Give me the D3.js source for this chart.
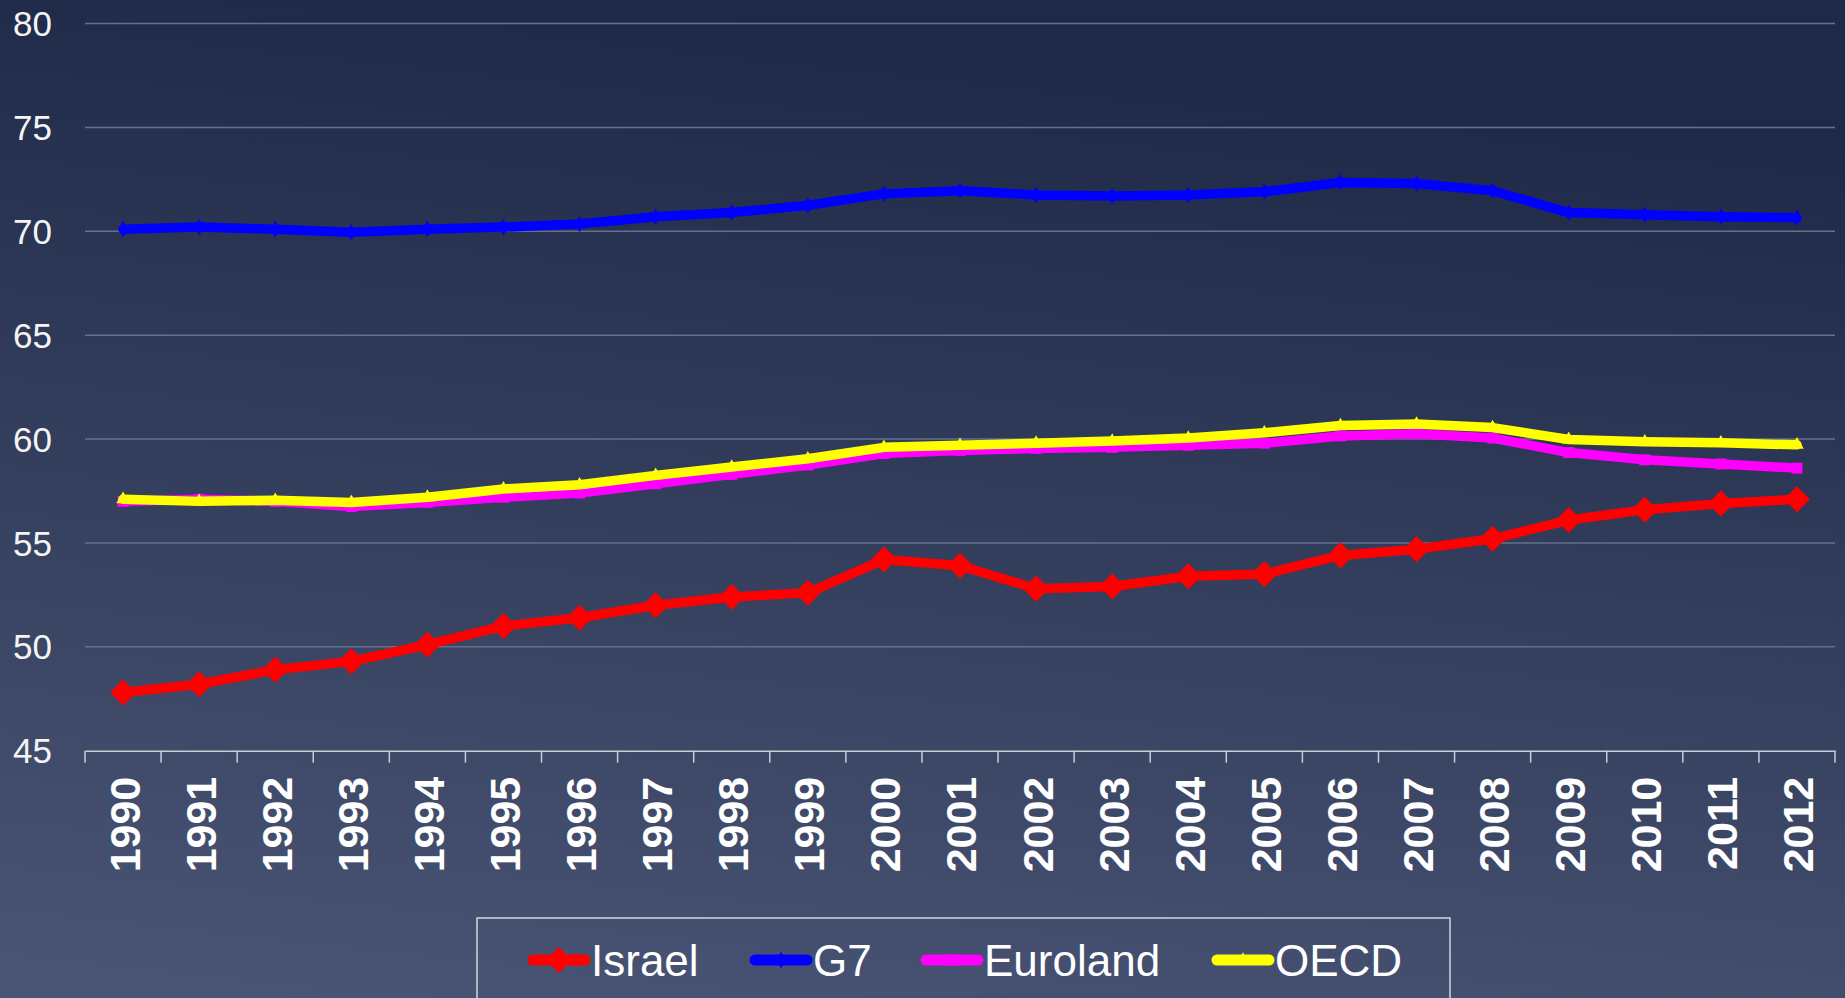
<!DOCTYPE html>
<html>
<head>
<meta charset="utf-8">
<script src="https://cdn.jsdelivr.net/npm/d3@7"></script>
<style>
	html, body { margin: 0; padding: 0; overflow: hidden; }
	svg { display: block; }
</style>
</head>
<body>
<svg id="chart" width="1845" height="998"></svg>
<script>
var years = ["1990","1991","1992","1993","1994","1995","1996","1997","1998","1999","2000","2001",
	"2002","2003","2004","2005","2006","2007","2008","2009","2010","2011","2012"];

var israel = [47.8,48.2,48.9,49.3,50.1,51.0,51.4,52.0,52.4,52.6,54.2,53.9,52.8,52.9,53.4,53.5,54.4,54.7,55.2,56.1,56.6,56.9,57.1];
var g7 = [70.1,70.2,70.1,69.95,70.1,70.2,70.35,70.7,70.9,71.25,71.8,71.95,71.75,71.7,71.75,71.9,72.35,72.3,71.95,70.9,70.8,70.7,70.65];
var euroland = [57.0,57.1,57.0,56.75,56.95,57.2,57.4,57.85,58.3,58.75,59.3,59.45,59.55,59.6,59.7,59.8,60.15,60.25,60.05,59.35,59.0,58.8,58.6];
var oecd = [57.1,57.0,57.05,56.95,57.2,57.6,57.8,58.25,58.65,59.05,59.6,59.7,59.8,59.9,60.05,60.3,60.65,60.72,60.55,59.98,59.87,59.82,59.72];

var yTicks = [45,50,55,60,65,70,75,80];
var seriesNames = ["Israel","G7","Euroland","OECD"];

var svg = d3.select("#chart");

// background
var defs = svg.append("defs");
var grad = defs.append("linearGradient")
	.attr("id", "bg")
	.attr("x1", "0.3").attr("y1", "0")
	.attr("x2", "0.1").attr("y2", "1");
grad.append("stop").attr("offset", "0").attr("stop-color", "#1e2847");
grad.append("stop").attr("offset", "0.5").attr("stop-color", "#343e5d");
grad.append("stop").attr("offset", "1").attr("stop-color", "#4a5575");

svg.append("rect")
	.attr("width", 1845)
	.attr("height", 998)
	.attr("fill", "url(#bg)");

var x = d3.scaleBand()
	.domain(years)
	.range([85, 1835])
	.padding(0);

var y = d3.scaleLinear()
	.domain([45, 80])
	.range([750.7, 23.5]);

// gridlines
svg.append("g")
	.selectAll("line")
	.data(yTicks.filter(d => d > 45))
	.enter()
	.append("line")
	.attr("x1", 85)
	.attr("x2", 1835)
	.attr("y1", d => y(d))
	.attr("y2", d => y(d))
	.attr("stroke", "#65708f")
	.attr("stroke-width", 1.5);

// y labels
svg.append("g")
	.selectAll("text")
	.data(yTicks)
	.enter()
	.append("text")
	.attr("x", 52)
	.attr("y", d => y(d))
	.attr("dy", "0.36em")
	.attr("text-anchor", "end")
	.attr("font-family", "Liberation Sans, Arial, sans-serif")
	.attr("font-size", 35)
	.attr("fill", "#f4f4f6")
	.text(d => d);

// x axis
var xAxis = d3.axisBottom(x)
	.tickSize(12)
	.tickSizeOuter(0);

var xg = svg.append("g")
	.attr("transform", "translate(0," + y(45) + ")")
	.call(xAxis);

xg.select(".domain")
	.attr("stroke", "#c9cdd8")
	.attr("stroke-width", 1.5);

xg.selectAll(".tick line")
	.attr("stroke", "#c9cdd8")
	.attr("stroke-width", 1.5)
	.attr("transform", "translate(" + (-x.bandwidth() / 2) + ",0)");

svg.append("line")
	.attr("x1", 1835).attr("x2", 1835)
	.attr("y1", y(45)).attr("y2", y(45) + 12)
	.attr("stroke", "#c9cdd8")
	.attr("stroke-width", 1.5);

xg.selectAll(".tick text")
	.attr("font-family", "Liberation Sans, Arial, sans-serif")
	.attr("font-size", 43)
	.attr("font-weight", "bold")
	.attr("fill", "#ffffff")
	.attr("text-anchor", "end")
	.attr("transform", "translate(1,0) rotate(-90)")
	.attr("x", -26)
	.attr("y", 0)
	.attr("dy", "0.36em");

var line = d3.line()
	.x((d, i) => x(years[i]) + x.bandwidth() / 2)
	.y(d => y(d));

var series = [
	{ name: "Euroland", values: euroland, color: "#ff00ff", symbol: d3.symbolSquare, size: 120, rot: 0 },
	{ name: "OECD", values: oecd, color: "#ffff00", symbol: d3.symbolTriangle, size: 80, rot: 0 },
	{ name: "G7", values: g7, color: "#0000ff", symbol: d3.symbolDiamond, size: 80, rot: 0 },
	{ name: "Israel", values: israel, color: "#ff0000", symbol: d3.symbolSquare, size: 340, rot: 45 }
];

series.forEach(function(s) {
	var g = svg.append("g");
	g.append("path")
		.datum(s.values)
		.attr("d", line)
		.attr("fill", "none")
		.attr("stroke", s.color)
		.attr("stroke-width", 9.5)
		.attr("stroke-linejoin", "round")
		.attr("stroke-linecap", "round");

	g.selectAll("path.mark")
		.data(s.values)
		.enter()
		.append("path")
		.attr("class", "mark")
		.attr("d", d3.symbol().type(s.symbol).size(s.size))
		.attr("transform", function(d, i) {
			return "translate(" + (x(years[i]) + x.bandwidth() / 2) + "," + y(d) + ") rotate(" + s.rot + ")";
		})
		.attr("fill", s.color);
});

// legend
svg.append("rect")
	.attr("x", 477)
	.attr("y", 918)
	.attr("width", 973)
	.attr("height", 100)
	.attr("fill", "none")
	.attr("stroke", "#d3d6df")
	.attr("stroke-width", 1.5);

var legendX = [533, 755, 926, 1217];
var legendY = 960;

var legend = svg.append("g")
	.selectAll("g")
	.data(seriesNames)
	.enter()
	.append("g")
	.attr("transform", (d, i) => "translate(" + legendX[i] + "," + legendY + ")");

legend.append("line")
	.attr("x1", 0)
	.attr("x2", 52)
	.attr("stroke", d => series.find(s => s.name == d).color)
	.attr("stroke-width", 11)
	.attr("stroke-linecap", "round");

legend.append("path")
	.attr("d", function(d) {
		var s = series.find(s => s.name == d);
		return d3.symbol().type(s.symbol).size(s.size)();
	})
	.attr("transform", function(d) {
		var s = series.find(s => s.name == d);
		return "translate(26,0) rotate(" + s.rot + ")";
	})
	.attr("fill", d => series.find(s => s.name == d).color);

legend.append("text")
	.attr("x", 58)
	.attr("dy", "0.36em")
	.attr("font-family", "Liberation Sans, Arial, sans-serif")
	.attr("font-size", 44)
	.attr("fill", "#ffffff")
	.text(d => d);
</script>
</body>
</html>
